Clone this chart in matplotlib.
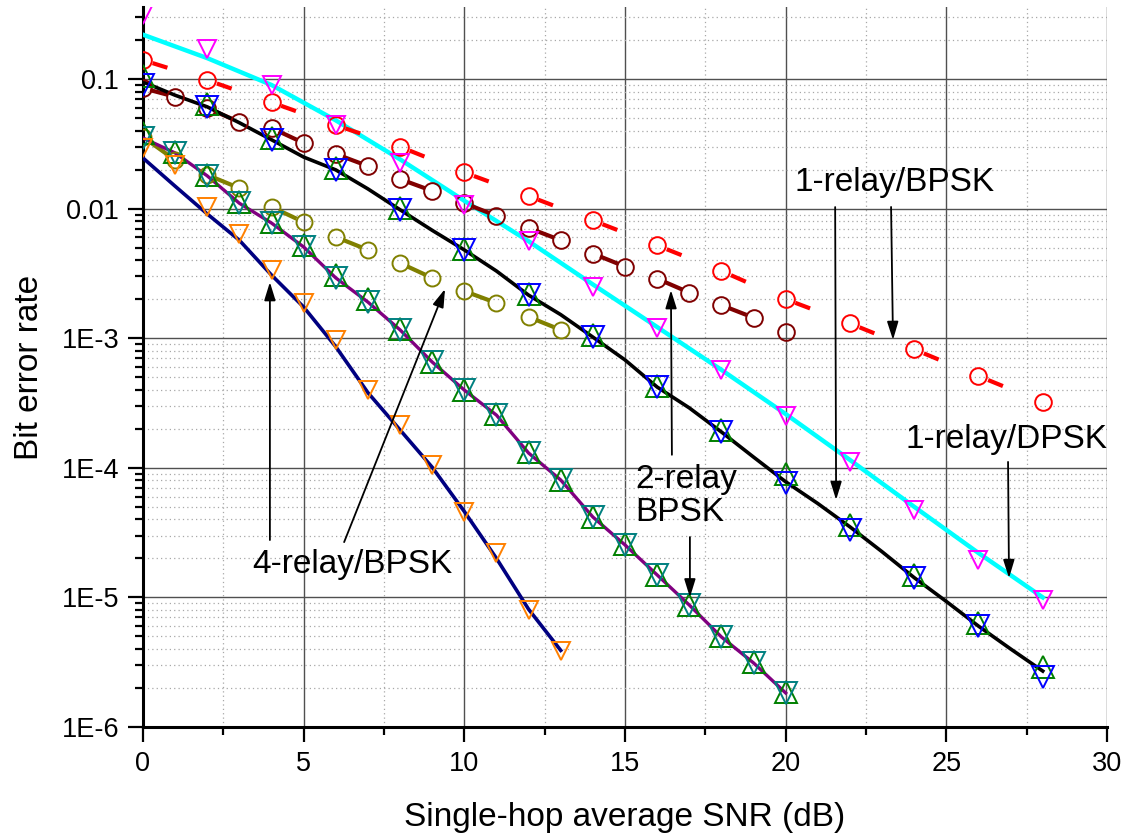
import numpy as np
import matplotlib
matplotlib.use("Agg")
import matplotlib.pyplot as plt
from matplotlib.ticker import MultipleLocator, FixedLocator, LogLocator, NullFormatter

plt.rcParams["font.family"] = ["Liberation Sans", "DejaVu Sans"]

# x grids (dB)
snr_2db = [0, 2, 4, 6, 8, 10, 12, 14, 16, 18, 20, 22, 24, 26, 28]
snr_to28 = list(range(0, 29))
snr_to20 = list(range(0, 21))
snr_to13 = list(range(0, 14))

# 1-relay/DPSK : cyan curve + magenta triangles + red circles
dpsk1_curve = [0.22, 0.145, 0.09, 0.048, 0.024, 0.0115, 0.0056, 0.0026, 0.00122,
               0.00057, 0.00026, 0.000115, 5.0e-5, 2.2e-5, 1.0e-5]
dpsk1_tri = [0.31, 0.17, 0.09, 0.044, 0.0225, 0.0107, 0.0056, 0.0025, 0.0012,
             0.00057, 0.00025, 0.00011, 4.7e-5, 1.95e-5, 9.6e-6]
dpsk1_circ = [0.14, 0.098, 0.066, 0.044, 0.030, 0.019, 0.0125, 0.0081, 0.0052,
              0.0033, 0.0020, 0.0013, 0.00082, 0.00051, 0.00032]

# maroon circles (1 dB steps, 0..20)
maroon_circ = [0.085, 0.073, 0.0597, 0.0466, 0.0419, 0.0321, 0.0264, 0.0213, 0.0169,
               0.0137, 0.011, 0.0088, 0.0071, 0.0057, 0.0045, 0.00357, 0.00288,
               0.00225, 0.0018, 0.00144, 0.00112]

# 1-relay/BPSK : black curve + blue/green triangles
bpsk1_curve = [0.095, 0.075, 0.061, 0.046, 0.034, 0.025, 0.0199, 0.0142, 0.0098,
               0.0068, 0.0048, 0.0033, 0.00215, 0.00152, 0.00102, 0.00068, 0.00042,
               0.00029, 0.000189, 0.000121, 7.8e-5, 5.3e-5, 3.5e-5, 2.25e-5, 1.42e-5,
               9.3e-6, 6.0e-6, 4.0e-6, 2.7e-6]
bpsk1_down = [0.090, 0.0608, 0.0338, 0.0199, 0.00975, 0.0048, 0.00215, 0.00102,
              0.00042, 0.000189, 7.6e-5, 3.3e-5, 1.41e-5, 6.0e-6, 2.45e-6]
bpsk1_up = [0.105, 0.064, 0.035, 0.0205, 0.0102, 0.0049, 0.0022, 0.00105, 0.00043,
            0.000195, 8.9e-5, 3.6e-5, 1.5e-5, 6.3e-6, 2.9e-6]

# 2-relay/BPSK : purple curve + teal/green triangles
bpsk2_down = [0.0351, 0.0269, 0.0179, 0.0110, 0.00774, 0.00506, 0.00292, 0.0019,
              0.00116, 0.000655, 0.000398, 0.000255, 0.00013, 8.05e-5, 4.17e-5,
              2.54e-5, 1.49e-5, 8.73e-6, 4.95e-6, 3.12e-6, 1.83e-6]
bpsk2_up = [0.038, 0.0273, 0.0182, 0.0113, 0.0079, 0.0052, 0.0031, 0.002, 0.00118,
            0.000655, 0.000398, 0.000258, 0.000132, 8.1e-5, 4.2e-5, 2.56e-5,
            1.5e-5, 8.8e-6, 5.0e-6, 3.15e-6, 1.85e-6]

# olive circles (0..13)
olive_circ = [0.0357, 0.0237, 0.0182, 0.0144, 0.0103, 0.00788, 0.00604, 0.0048,
              0.0038, 0.00292, 0.00231, 0.00187, 0.00146, 0.00116]

# 4-relay/BPSK : navy curve + orange triangles
bpsk4_curve = [0.0246, 0.0149, 0.0091, 0.0057, 0.00307, 0.00174, 0.00086, 0.00038,
               0.000196, 0.000101, 4.6e-5, 2.0e-5, 8.1e-6, 3.9e-6]
bpsk4_tri = [0.0294, 0.0217, 0.0103, 0.00637, 0.00336, 0.00187, 0.00097, 0.000398,
             0.000214, 0.000105, 4.56e-5, 2.2e-5, 8.0e-6, 3.86e-6]

ytick_vals = [1e-6, 1e-5, 1e-4, 1e-3, 1e-2, 1e-1]
ytick_labels = ["1E-6", "1E-5", "1E-4", "1E-3", "0.01", "0.1"]


def dash_pieces(ax, x, y, step, t0, t1, **kw):
    # short dash between neighbouring points (log-y interpolation)
    ts = np.array([t0, t1])
    for i in range(0, len(x) - 1, step):
        la, lb = np.log10(y[i]), np.log10(y[i + 1])
        ax.plot(x[i] + ts * (x[i + 1] - x[i]), 10 ** (la + ts * (lb - la)),
                solid_capstyle="butt", **kw)


fig = plt.figure(figsize=(11.31, 8.38), dpi=100)
ax = fig.add_axes([0.1264, 0.1325, 0.8524, 0.8591])
ax.set_yscale("log")

hollow = dict(linestyle="none", markerfacecolor="none", markeredgewidth=1.4)

# 1-relay DPSK
ax.plot(snr_2db, dpsk1_curve, color="#00ffff", lw=3.2, zorder=3)
dash_pieces(ax, snr_2db, dpsk1_circ, 1, 0.15, 0.38, color="#ff0000", lw=3, zorder=3)
ax.plot(snr_2db, dpsk1_circ, marker="o", ms=12, markeredgecolor="#ff0000", zorder=4, **hollow)
ax.plot(snr_2db, dpsk1_tri, marker="v", ms=13, markeredgecolor="#ff00ff", zorder=5, **hollow)

# maroon circles
dash_pieces(ax, snr_to20, maroon_circ, 2, 0.22, 0.78, color="#800000", lw=3, zorder=3)
ax.plot(snr_to20, maroon_circ, marker="o", ms=12, markeredgecolor="#800000", zorder=4, **hollow)

# 1-relay BPSK
ax.plot(snr_to28, bpsk1_curve, color="black", lw=2.6, zorder=3)
ax.plot(snr_2db, bpsk1_up, marker="^", ms=15.5, markeredgecolor="#008000", zorder=5, **hollow)
ax.plot(snr_2db, bpsk1_down, marker="v", ms=15.5, markeredgecolor="#0000ff", zorder=5, **hollow)

# olive circles
dash_pieces(ax, snr_to13, olive_circ, 2, 0.22, 0.78, color="#808000", lw=3, zorder=3)
ax.plot(snr_to13, olive_circ, marker="o", ms=11.5, markeredgecolor="#808000", zorder=4, **hollow)

# 2-relay BPSK
ax.plot(snr_to20, bpsk2_down, color="#800080", lw=2.4, zorder=3)
ax.plot(snr_to20, bpsk2_up, marker="^", ms=16, markeredgecolor="#008000", zorder=5, **hollow)
ax.plot(snr_to20, bpsk2_down, marker="v", ms=16, markeredgecolor="#008080", zorder=5, **hollow)

# 4-relay BPSK
ax.plot(snr_to13, bpsk4_curve, color="#000080", lw=2.6, zorder=3)
ax.plot(snr_to13, bpsk4_tri, marker="v", ms=13, markeredgecolor="#ff8000", zorder=5, **hollow)

# axes
ax.set_xlim(0, 30)
ax.set_ylim(1e-6, 0.3594)
ax.xaxis.set_major_locator(MultipleLocator(5))
ax.xaxis.set_minor_locator(MultipleLocator(2.5))
ax.yaxis.set_major_locator(FixedLocator(ytick_vals))
ax.set_yticklabels(ytick_labels)
ax.yaxis.set_minor_locator(LogLocator(base=10, subs=np.arange(2, 10)))
ax.yaxis.set_minor_formatter(NullFormatter())

ax.grid(which="major", color="#505050", lw=1.0, ls="-", zorder=1)
ax.grid(which="minor", color="#a8a8a8", lw=0.9, ls=(0, (1, 2.5)), zorder=1)
ax.set_axisbelow(True)

for s in ["top", "right"]:
    ax.spines[s].set_visible(False)
for s in ["left", "bottom"]:
    ax.spines[s].set_linewidth(2.2)
ax.tick_params(which="major", direction="out", length=11, width=1.6, labelsize=19.5, pad=6)
ax.tick_params(which="minor", direction="out", length=6, width=1.6)

ax.set_xlabel("Single-hop average SNR (dB)", fontsize=24, labelpad=18)
ax.set_ylabel("Bit error rate", fontsize=24, labelpad=12)

# annotations
txt = dict(fontsize=24, ha="left", va="center")
ax.text(20.29, 0.016, "1-relay/BPSK", **txt)
ax.text(23.72, 1.64e-4, "1-relay/DPSK", **txt)
ax.text(15.31, 6.05e-5, "2-relay\nBPSK", linespacing=1.1, **txt)
ax.text(3.39, 1.78e-5, "4-relay/BPSK", **txt)

arrow = dict(arrowstyle="-|>,head_length=0.55,head_width=0.17", color="black",
             lw=1.3, shrinkA=0, shrinkB=0, mutation_scale=20)
arrows = [
    ((21.54, 0.01028), (21.57, 5.65e-5)),
    ((23.28, 0.0103), (23.34, 9.7e-4)),
    ((26.92, 1.11e-4), (26.95, 1.41e-5)),
    ((16.46, 1.26e-4), (16.43, 2.35e-3)),
    ((17.02, 2.92e-5), (17.02, 1.0e-5)),
    ((3.95, 2.77e-5), (3.95, 2.71e-3)),
    ((6.26, 2.67e-5), (9.40, 2.40e-3)),
]
for start, tip in arrows:
    ax.annotate("", xy=tip, xytext=start, arrowprops=arrow, zorder=6)

fig.savefig("out.png", dpi=100)
